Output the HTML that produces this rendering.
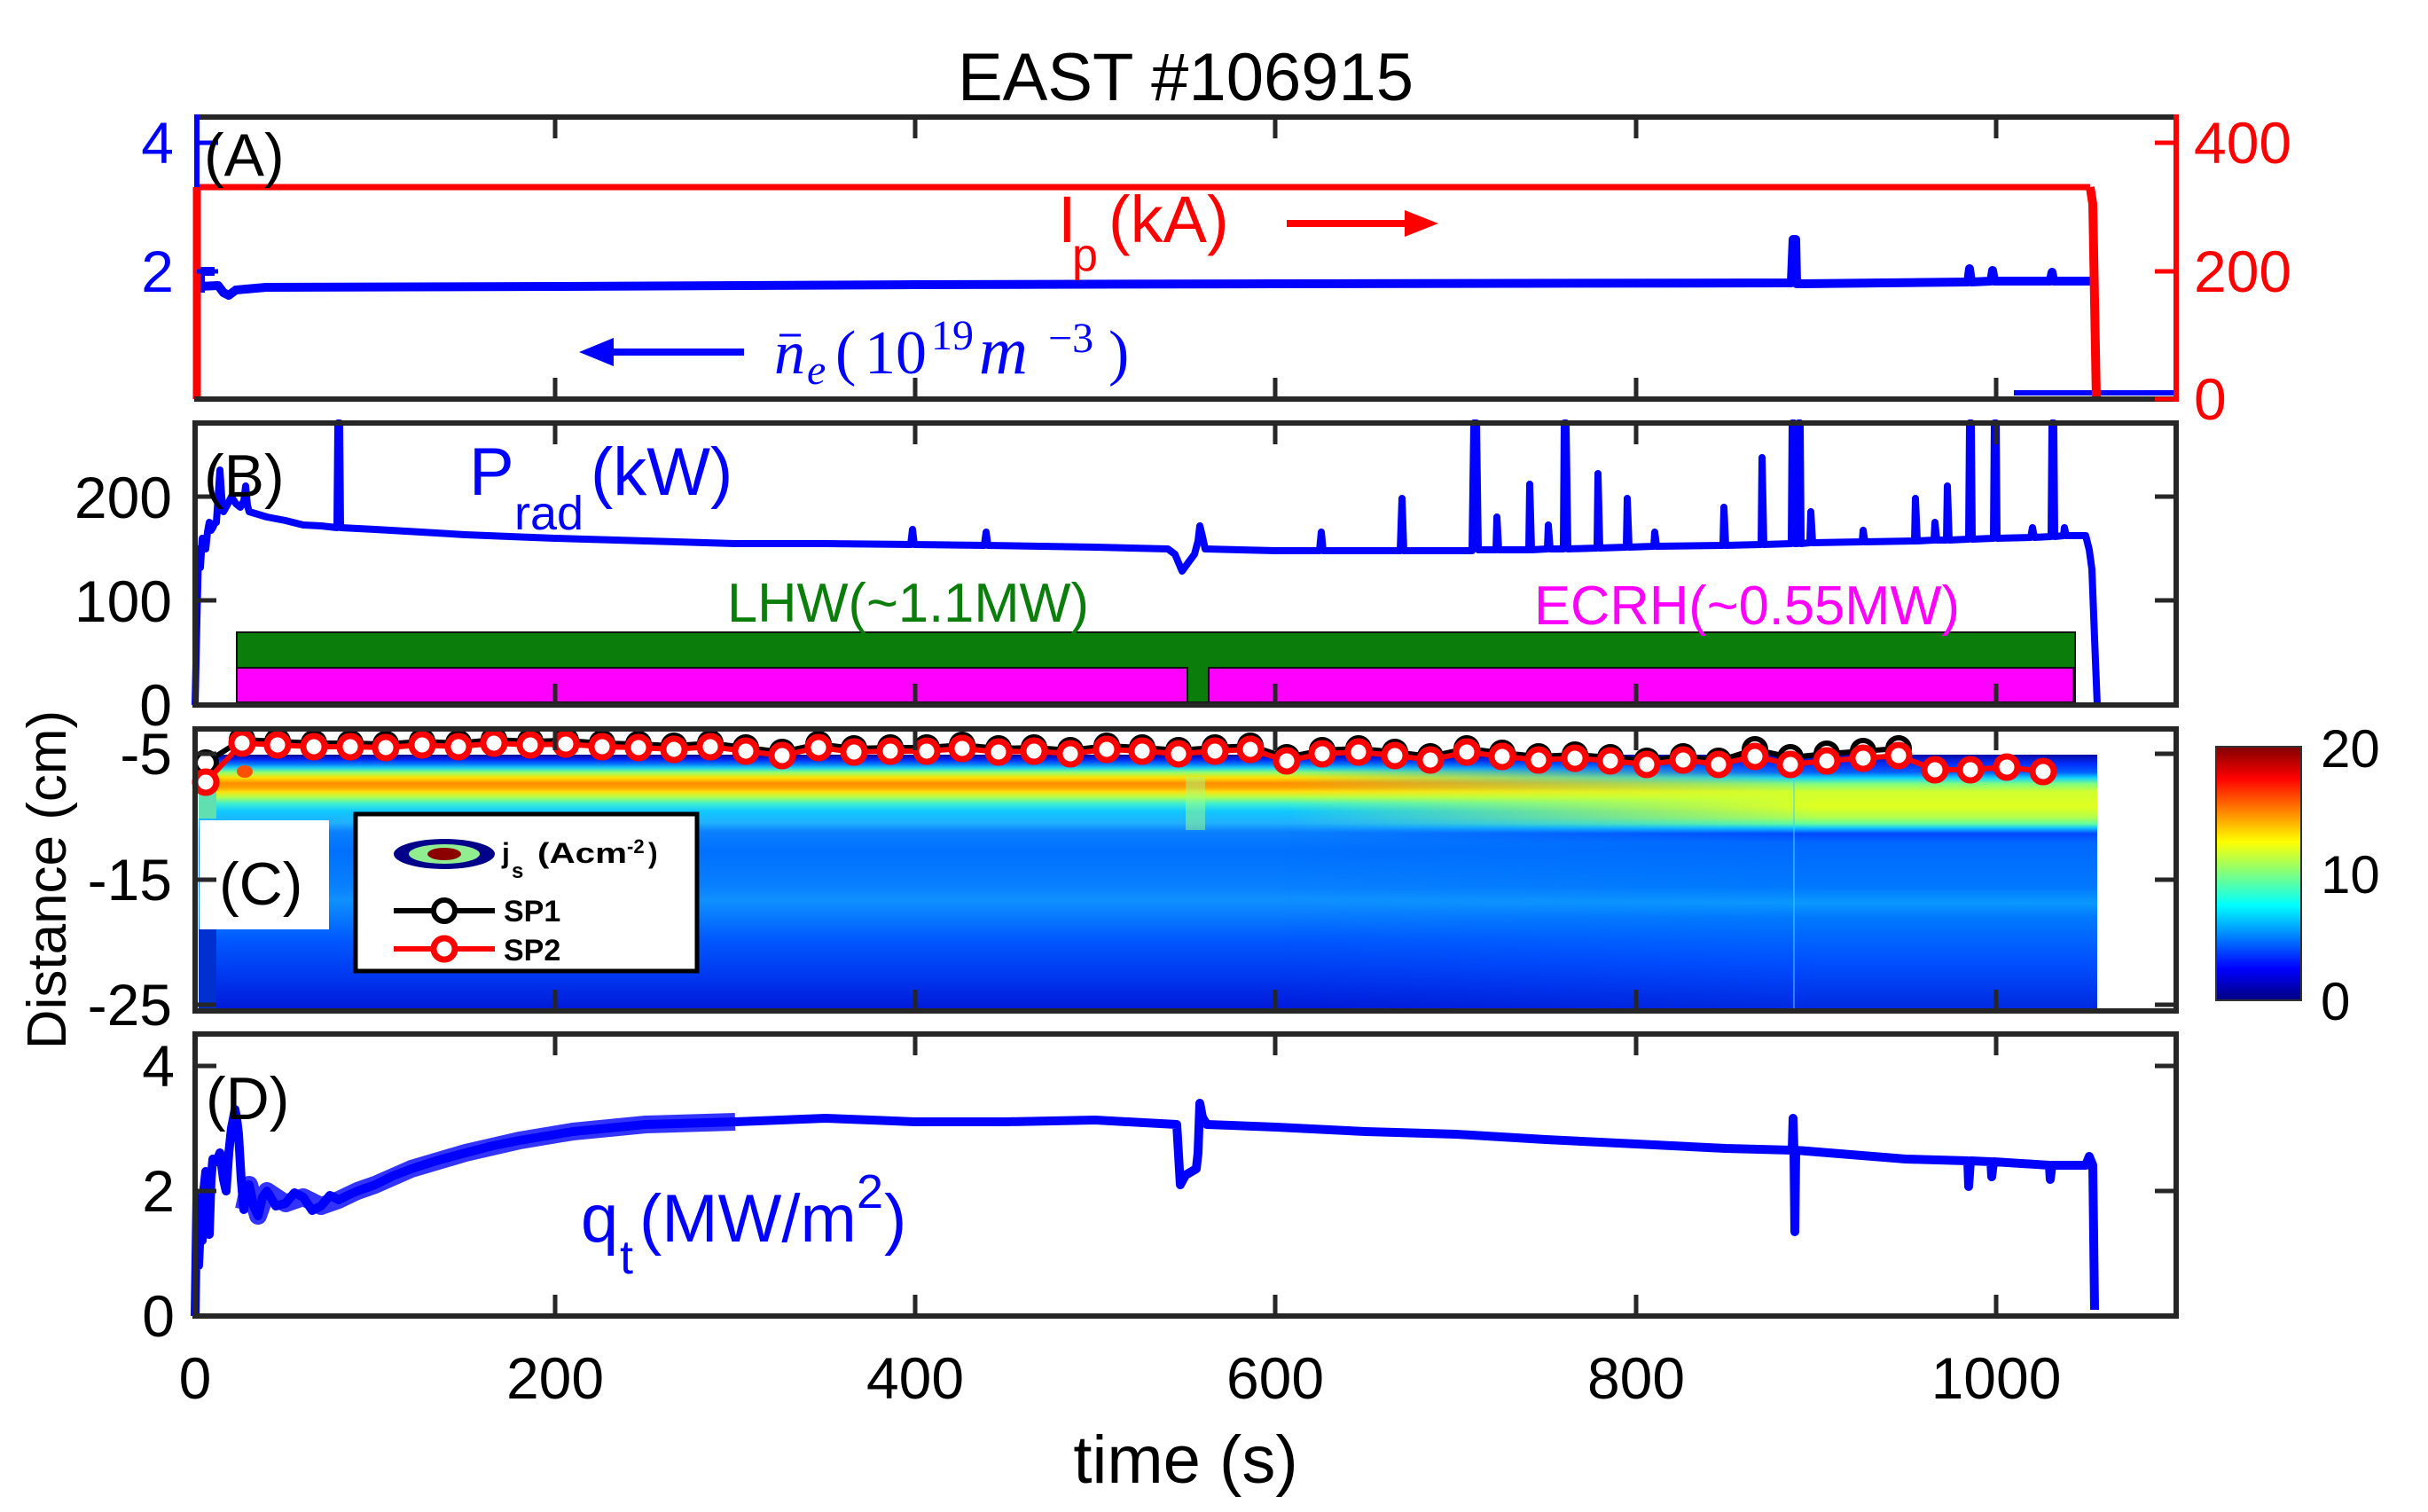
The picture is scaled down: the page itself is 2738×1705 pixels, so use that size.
<!DOCTYPE html>
<html>
<head>
<meta charset="utf-8">
<style>
html,body{margin:0;padding:0;background:#fff;}
svg{display:block;}
</style>
</head>
<body>
<svg xmlns="http://www.w3.org/2000/svg" width="2738" height="1705" viewBox="0 0 2738 1705" font-family="'Liberation Sans', Arial, Helvetica, sans-serif">
<defs>
  <linearGradient id="gL" x1="0" y1="0" x2="0" y2="1">
    <stop offset="0" stop-color="#0a0a90"/>
    <stop offset="0.017" stop-color="#0020f0"/>
    <stop offset="0.035" stop-color="#0070ff"/>
    <stop offset="0.052" stop-color="#20d0f0"/>
    <stop offset="0.069" stop-color="#90ff70"/>
    <stop offset="0.090" stop-color="#ffe000"/>
    <stop offset="0.111" stop-color="#ff9000"/>
    <stop offset="0.128" stop-color="#ffa000"/>
    <stop offset="0.145" stop-color="#ffe010"/>
    <stop offset="0.166" stop-color="#b0ff50"/>
    <stop offset="0.190" stop-color="#40f0d0"/>
    <stop offset="0.221" stop-color="#10c8ff"/>
    <stop offset="0.266" stop-color="#20b0ff"/>
    <stop offset="0.301" stop-color="#0a80ff"/>
    <stop offset="0.377" stop-color="#0070ff"/>
    <stop offset="0.516" stop-color="#0880ff"/>
    <stop offset="0.567" stop-color="#1090ff"/>
    <stop offset="0.637" stop-color="#0878ff"/>
    <stop offset="0.723" stop-color="#0058ff"/>
    <stop offset="0.862" stop-color="#0038f0"/>
    <stop offset="1" stop-color="#0018d8"/>
  </linearGradient>
  <linearGradient id="gR" x1="0" y1="0" x2="0" y2="1">
    <stop offset="0" stop-color="#0808a8"/>
    <stop offset="0.038" stop-color="#0030ff"/>
    <stop offset="0.069" stop-color="#0060ff"/>
    <stop offset="0.090" stop-color="#10d0ff"/>
    <stop offset="0.114" stop-color="#80ff80"/>
    <stop offset="0.145" stop-color="#d0ff30"/>
    <stop offset="0.204" stop-color="#e0ff20"/>
    <stop offset="0.246" stop-color="#b0ff50"/>
    <stop offset="0.270" stop-color="#60ffa0"/>
    <stop offset="0.287" stop-color="#10c0ff"/>
    <stop offset="0.308" stop-color="#0048ff"/>
    <stop offset="0.343" stop-color="#0068ff"/>
    <stop offset="0.516" stop-color="#0078ff"/>
    <stop offset="0.578" stop-color="#0a98ff"/>
    <stop offset="0.637" stop-color="#0078ff"/>
    <stop offset="0.810" stop-color="#0050ff"/>
    <stop offset="1" stop-color="#0028e0"/>
  </linearGradient>
  <linearGradient id="mfade" gradientUnits="userSpaceOnUse" x1="1450" y1="0" x2="2050" y2="0">
    <stop offset="0" stop-color="#000"/>
    <stop offset="1" stop-color="#fff"/>
  </linearGradient>
  <mask id="mR" maskUnits="userSpaceOnUse" x="0" y="0" width="2738" height="1705">
    <rect x="0" y="0" width="2738" height="1705" fill="url(#mfade)"/>
  </mask>
  <linearGradient id="jet" x1="0" y1="0" x2="0" y2="1">
    <stop offset="0" stop-color="#800000"/>
    <stop offset="0.125" stop-color="#ff0000"/>
    <stop offset="0.375" stop-color="#ffff00"/>
    <stop offset="0.625" stop-color="#00ffff"/>
    <stop offset="0.875" stop-color="#0000ff"/>
    <stop offset="1" stop-color="#000080"/>
  </linearGradient>
</defs>

<rect x="0" y="0" width="2738" height="1705" fill="#fff"/>

<!-- Title -->
<text x="1337" y="113" font-size="76" text-anchor="middle" fill="#000">EAST #106915</text>

<!-- ================= PANEL A ================= -->
<g fill="none" stroke-linejoin="round" stroke-linecap="butt">
  <path d="M226,306 L242,306 M226,306 L226,330 M224,323 L246,322 L252,330 L258,333 L266,327 L300,324 L626,323 L1032,321 L1438,320 L2020,319 L2022,270 L2025,270 L2026,320 L2219,318 L2221,303 L2223,318 L2245,317 L2247,305 L2249,317 L2312,317 L2314,307 L2316,317 L2357,317" stroke="#0000ff" stroke-width="10"/>
  <path d="M2271,443 H2454" stroke="#0000ff" stroke-width="6"/>
  <path d="M222,211 L2357,211" stroke="#ff0000" stroke-width="7"/>
  <path d="M222,450 L222,211" stroke="#ff0000" stroke-width="9"/>
  <path d="M2357,211 L2360,230 L2364,450" stroke="#ff0000" stroke-width="10"/>
</g>
<path d="M219,132 H2457 M219,450 H2457" stroke="#262626" stroke-width="6" fill="none"/>
<path d="M222,129 V211" stroke="#0000ff" stroke-width="6"/>
<path d="M2454,129 V453" stroke="#ff0000" stroke-width="6"/>
<path d="M626,132v24M1032,132v24M1438,132v24M1845,132v24M2251,132v24M626,450v-24M1032,450v-24M1438,450v-24M1845,450v-24M2251,450v-24" stroke="#262626" stroke-width="5"/>
<path d="M222,161h24M222,306h24" stroke="#0000ff" stroke-width="5"/>
<path d="M2454,161h-24M2454,306h-24M2454,450h-24" stroke="#ff0000" stroke-width="5"/>
<g font-size="66">
  <text x="196" y="184" text-anchor="end" fill="#0000ff">4</text>
  <text x="196" y="329" text-anchor="end" fill="#0000ff">2</text>
  <text x="2474" y="184" fill="#ff0000">400</text>
  <text x="2474" y="329" fill="#ff0000">200</text>
  <text x="2474" y="473" fill="#ff0000">0</text>
</g>
<text x="230" y="198" font-size="68" fill="#000">(A)</text>
<g fill="#ff0000">
  <text x="1193" y="273" font-size="74">I</text>
  <text x="1209" y="305" font-size="52">p</text>
  <text x="1250" y="273" font-size="74">(kA)</text>
</g>
<path d="M1451,252 H1592" stroke="#ff0000" stroke-width="8"/>
<polygon points="1622,252 1584,237 1584,267" fill="#ff0000"/>
<path d="M690,397 H839" stroke="#0000ff" stroke-width="8"/>
<polygon points="653,397 692,381 692,413" fill="#0000ff"/>
<g fill="#0000ff" font-family="'Liberation Serif', 'Times New Roman', serif">
  <text x="873" y="421" font-size="70" font-style="italic">n</text>
  <text x="910" y="433" font-size="48" font-style="italic">e</text>
  <text x="942" y="421" font-size="70">(</text>
  <text x="975" y="421" font-size="70">10</text>
  <text x="1050" y="394" font-size="48">19</text>
  <text x="1104" y="421" font-size="76" font-style="italic">m</text>
  <text x="1182" y="397" font-size="48">−3</text>
  <text x="1250" y="421" font-size="70">)</text>
</g>
<path d="M879,378 H903" stroke="#0000ff" stroke-width="3"/>

<!-- ================= PANEL B ================= -->
<rect x="267" y="713" width="2073" height="79" fill="#0b7d0b" stroke="#111" stroke-width="2"/>
<rect x="267" y="753" width="1072" height="39" fill="#ff00ff" stroke="#111" stroke-width="2"/>
<rect x="1363" y="753" width="975" height="39" fill="#ff00ff" stroke="#111" stroke-width="2"/>
<path d="M220,795 L222,700 L224,619 L226,640 L228,607 L230,612 L232,619 L234,600 L236,589 L238,598 L240,595 L242,590 L244,589 L246,560 L248,530 L250,560 L252,577 L256,570 L261,560 L266,568 L271,572 L275,565 L277,548 L279,570 L281,577 L301,583 L322,587 L342,592 L362,593 L380,595 L381,477 L383,477 L384,595 L423,597 L475,600 L525,603 L575,605 L626,607 L728,610 L829,613 L931,613 L1027,614 L1029,597 L1031,614 L1110,615 L1112,600 L1114,615 L1235,617 L1317,619 L1325,625 L1333,644 L1341,633 L1347,625 L1351,610 L1353,593 L1356,605 L1359,619 L1439,621 L1488,621 L1490,600 L1492,621 L1579,621 L1581,562 L1583,621 L1660,621 L1662,477 L1665,477 L1667,620 L1687,620 L1688,583 L1690,620 L1724,620 L1725,546 L1727,620 L1745,619 L1746,592 L1748,619 L1763,619 L1764,477 L1766,477 L1768,619 L1801,618 L1802,534 L1804,618 L1834,617 L1835,562 L1837,617 L1865,616 L1866,600 L1868,616 L1943,615 L1944,572 L1946,615 L1986,614 L1987,516 L1989,614 L2020,613 L2021,477 L2023,477 L2024,613 L2027,613 L2028,477 L2030,477 L2031,613 L2041,612 L2042,577 L2044,612 L2100,611 L2101,598 L2103,611 L2159,610 L2160,562 L2162,610 L2181,609 L2182,589 L2184,609 L2195,609 L2196,548 L2198,609 L2220,608 L2221,477 L2223,477 L2224,608 L2248,607 L2249,477 L2251,477 L2252,607 L2290,606 L2292,595 L2294,606 L2313,605 L2314,477 L2316,477 L2317,605 L2327,604 L2328,595 L2330,604 L2352,604 L2356,620 L2359,642 L2362,720 L2365,795" fill="none" stroke="#0000ff" stroke-width="8" stroke-linejoin="round"/>
<rect x="220" y="477" width="2234" height="318" fill="none" stroke="#262626" stroke-width="6"/>
<path d="M626,477v24M1032,477v24M1438,477v24M1845,477v24M2251,477v24M626,795v-24M1032,795v-24M1438,795v-24M1845,795v-24M2251,795v-24M220,560h24M220,677h24M2454,560h-24M2454,677h-24" stroke="#262626" stroke-width="5"/>
<g font-size="66" fill="#000">
  <text x="194" y="584" text-anchor="end">200</text>
  <text x="194" y="701" text-anchor="end">100</text>
  <text x="194" y="818" text-anchor="end">0</text>
</g>
<text x="230" y="560" font-size="68" fill="#000">(B)</text>
<g fill="#0000ff">
  <text x="529" y="558" font-size="76">P</text>
  <text x="580" y="597" font-size="54">rad</text>
  <text x="666" y="558" font-size="76">(kW)</text>
</g>
<text x="820" y="701" font-size="62" fill="#0b7d0b" textLength="408" lengthAdjust="spacingAndGlyphs">LHW(~1.1MW)</text>
<text x="1730" y="704" font-size="62" fill="#ff00ff" textLength="480" lengthAdjust="spacingAndGlyphs">ECRH(~0.55MW)</text>

<!-- ================= PANEL C ================= -->
<rect x="224" y="851" width="2141" height="289" fill="url(#gL)"/>
<rect x="224" y="851" width="2141" height="289" fill="url(#gR)" mask="url(#mR)"/>
<rect x="224" y="851" width="20" height="22" fill="#000050"/>
<rect x="224" y="873" width="20" height="50" fill="#60e0b0"/>
<rect x="224" y="1048" width="20" height="92" fill="#0030d0"/>
<ellipse cx="276" cy="870" rx="9" ry="7" fill="#ff5000"/>
<rect x="1337" y="876" width="22" height="60" fill="#a0ff80" opacity="0.5"/>
<path d="M2023,851 V1140" stroke="#40d0ff" stroke-width="2" opacity="0.5"/>

<polyline points="228,852 232,860 273,834 313,836 354,838 395,838 435,839 476,836 517,838 557,834 598,836 638,835 679,838 720,839 760,841 801,838 841,843 882,848 923,839 963,844 1004,843 1045,843 1085,840 1126,844 1166,843 1207,846 1248,841 1288,843 1329,846 1370,843 1410,841 1451,854 1491,846 1532,844 1573,848 1613,853 1654,844 1694,849 1735,853 1776,851 1816,854 1857,858 1898,853 1938,858 1979,845 2019,854 2060,850 2101,847 2141,844" fill="none" stroke="#000" stroke-width="6"/>
<g fill="#fff" stroke="#000" stroke-width="6">
<circle cx="232" cy="860" r="12"/><circle cx="273" cy="834" r="12"/><circle cx="313" cy="836" r="12"/><circle cx="354" cy="838" r="12"/><circle cx="395" cy="838" r="12"/><circle cx="435" cy="839" r="12"/><circle cx="476" cy="836" r="12"/><circle cx="517" cy="838" r="12"/><circle cx="557" cy="834" r="12"/><circle cx="598" cy="836" r="12"/><circle cx="638" cy="835" r="12"/><circle cx="679" cy="838" r="12"/><circle cx="720" cy="839" r="12"/><circle cx="760" cy="841" r="12"/><circle cx="801" cy="838" r="12"/><circle cx="841" cy="843" r="12"/><circle cx="882" cy="848" r="12"/><circle cx="923" cy="839" r="12"/><circle cx="963" cy="844" r="12"/><circle cx="1004" cy="843" r="12"/><circle cx="1045" cy="843" r="12"/><circle cx="1085" cy="840" r="12"/><circle cx="1126" cy="844" r="12"/><circle cx="1166" cy="843" r="12"/><circle cx="1207" cy="846" r="12"/><circle cx="1248" cy="841" r="12"/><circle cx="1288" cy="843" r="12"/><circle cx="1329" cy="846" r="12"/><circle cx="1370" cy="843" r="12"/><circle cx="1410" cy="841" r="12"/><circle cx="1451" cy="854" r="12"/><circle cx="1491" cy="846" r="12"/><circle cx="1532" cy="844" r="12"/><circle cx="1573" cy="848" r="12"/><circle cx="1613" cy="853" r="12"/><circle cx="1654" cy="844" r="12"/><circle cx="1694" cy="849" r="12"/><circle cx="1735" cy="853" r="12"/><circle cx="1776" cy="851" r="12"/><circle cx="1816" cy="854" r="12"/><circle cx="1857" cy="858" r="12"/><circle cx="1898" cy="853" r="12"/><circle cx="1938" cy="858" r="12"/><circle cx="1979" cy="845" r="12"/><circle cx="2019" cy="854" r="12"/><circle cx="2060" cy="850" r="12"/><circle cx="2101" cy="847" r="12"/><circle cx="2141" cy="844" r="12"/>
</g>
<polyline points="232,882 273,838 313,840 354,842 395,842 435,843 476,840 517,842 557,838 598,840 638,839 679,842 720,843 760,845 801,842 841,847 882,852 923,843 963,848 1004,847 1045,847 1085,844 1126,848 1166,847 1207,850 1248,845 1288,847 1329,850 1370,847 1410,845 1451,858 1491,850 1532,848 1573,852 1613,857 1654,848 1694,853 1735,857 1776,855 1816,858 1857,862 1898,857 1938,862 1979,853 2019,862 2060,858 2101,855 2141,852 2182,868 2222,868 2263,865 2304,870" fill="none" stroke="#ff0000" stroke-width="6"/>
<g fill="#fff" stroke="#ff0000" stroke-width="7">
<circle cx="232" cy="882" r="12"/><circle cx="273" cy="838" r="12"/><circle cx="313" cy="840" r="12"/><circle cx="354" cy="842" r="12"/><circle cx="395" cy="842" r="12"/><circle cx="435" cy="843" r="12"/><circle cx="476" cy="840" r="12"/><circle cx="517" cy="842" r="12"/><circle cx="557" cy="838" r="12"/><circle cx="598" cy="840" r="12"/><circle cx="638" cy="839" r="12"/><circle cx="679" cy="842" r="12"/><circle cx="720" cy="843" r="12"/><circle cx="760" cy="845" r="12"/><circle cx="801" cy="842" r="12"/><circle cx="841" cy="847" r="12"/><circle cx="882" cy="852" r="12"/><circle cx="923" cy="843" r="12"/><circle cx="963" cy="848" r="12"/><circle cx="1004" cy="847" r="12"/><circle cx="1045" cy="847" r="12"/><circle cx="1085" cy="844" r="12"/><circle cx="1126" cy="848" r="12"/><circle cx="1166" cy="847" r="12"/><circle cx="1207" cy="850" r="12"/><circle cx="1248" cy="845" r="12"/><circle cx="1288" cy="847" r="12"/><circle cx="1329" cy="850" r="12"/><circle cx="1370" cy="847" r="12"/><circle cx="1410" cy="845" r="12"/><circle cx="1451" cy="858" r="12"/><circle cx="1491" cy="850" r="12"/><circle cx="1532" cy="848" r="12"/><circle cx="1573" cy="852" r="12"/><circle cx="1613" cy="857" r="12"/><circle cx="1654" cy="848" r="12"/><circle cx="1694" cy="853" r="12"/><circle cx="1735" cy="857" r="12"/><circle cx="1776" cy="855" r="12"/><circle cx="1816" cy="858" r="12"/><circle cx="1857" cy="862" r="12"/><circle cx="1898" cy="857" r="12"/><circle cx="1938" cy="862" r="12"/><circle cx="1979" cy="853" r="12"/><circle cx="2019" cy="862" r="12"/><circle cx="2060" cy="858" r="12"/><circle cx="2101" cy="855" r="12"/><circle cx="2141" cy="852" r="12"/><circle cx="2182" cy="868" r="12"/><circle cx="2222" cy="868" r="12"/><circle cx="2263" cy="865" r="12"/><circle cx="2304" cy="870" r="12"/>
</g>

<rect x="225" y="925" width="146" height="123" fill="#fff"/>
<text x="247" y="1020" font-size="68" fill="#000">(C)</text>

<rect x="401" y="918" width="385" height="177" fill="#fff" stroke="#000" stroke-width="5"/>
<ellipse cx="501" cy="963" rx="57" ry="17" fill="#00008b"/>
<ellipse cx="501" cy="963" rx="40" ry="11" fill="#90ee90"/>
<ellipse cx="501" cy="963" rx="19" ry="7" fill="#8b0000"/>
<g font-weight="bold" fill="#000">
  <text x="566" y="973" font-size="32">j</text>
  <text x="577" y="990" font-size="24">s</text>
  <text x="606" y="973" font-size="32" textLength="101" lengthAdjust="spacingAndGlyphs">(Acm</text>
  <text x="707" y="962" font-size="22">-2</text>
  <text x="731" y="973" font-size="32">)</text>
  <text x="568" y="1039" font-size="34">SP1</text>
  <text x="568" y="1083" font-size="34">SP2</text>
</g>
<path d="M444,1027 H558" stroke="#000" stroke-width="6"/>
<circle cx="501" cy="1027" r="12" fill="#fff" stroke="#000" stroke-width="6"/>
<path d="M444,1070 H558" stroke="#ff0000" stroke-width="6"/>
<circle cx="501" cy="1070" r="12" fill="#fff" stroke="#ff0000" stroke-width="7"/>

<rect x="220" y="822" width="2234" height="318" fill="none" stroke="#262626" stroke-width="6"/>
<path d="M626,822v24M1032,822v24M1438,822v24M1845,822v24M2251,822v24M626,1140v-24M1032,1140v-24M1438,1140v-24M1845,1140v-24M2251,1140v-24M220,850h24M220,992h24M220,1133h24M2454,850h-24M2454,992h-24M2454,1133h-24" stroke="#262626" stroke-width="5"/>
<g font-size="66" fill="#000">
  <text x="194" y="873" text-anchor="end">-5</text>
  <text x="194" y="1015" text-anchor="end">-15</text>
  <text x="194" y="1156" text-anchor="end">-25</text>
</g>

<rect x="2499" y="842" width="96" height="286" fill="url(#jet)" stroke="#333" stroke-width="2"/>
<g font-size="60" fill="#000">
  <text x="2617" y="865">20</text>
  <text x="2617" y="1007">10</text>
  <text x="2617" y="1150">0</text>
</g>

<text transform="translate(74,992) rotate(-90)" font-size="62" text-anchor="middle" fill="#000">Distance (cm)</text>

<!-- ================= PANEL D ================= -->
<path d="M220,1484 L222,1350 L224,1427 L226,1380 L228,1399 L230,1340 L232,1321 L234,1370 L236,1392 L238,1330 L240,1307 L244,1310 L248,1300 L252,1330 L255,1343 L258,1300 L261,1272 L263,1262 L265,1251 L267,1262 L269,1279 L272,1330 L275,1364 L278,1345 L281,1336 L286,1360 L291,1371 L296,1350 L301,1343 L311,1360 L322,1357 L332,1345 L342,1350 L352,1365 L362,1360 L372,1348 L382,1353 L392,1348 L403,1343 L423,1336 L443,1326 L464,1318 L495,1308 L525,1300 L556,1292 L586,1286 L616,1281 L646,1276 L687,1272 L728,1268 L829,1265 L931,1261 L1032,1265 L1134,1265 L1235,1263 L1327,1268 L1331,1336 L1337,1325 L1349,1318 L1351,1300 L1353,1244 L1356,1260 L1361,1268 L1439,1271 L1540,1276 L1642,1279 L1743,1285 L1845,1290 L1946,1295 L2021,1297 L2022,1261 L2023,1297 L2024,1389 L2025,1297 L2149,1307 L2219,1309 L2220,1338 L2222,1309 L2245,1310 L2246,1327 L2248,1310 L2311,1314 L2312,1330 L2314,1314 L2352,1314 L2356,1304 L2360,1314 L2362,1477" fill="none" stroke="#0000ff" stroke-width="10" stroke-linejoin="round"/>
<path d="M275,1364 L281,1336 L291,1371 L301,1343 L322,1357 L342,1350 L362,1360 L382,1353 L403,1343 L423,1336 L464,1318 L525,1300 L586,1286 L646,1276 L728,1268 L829,1265" fill="none" stroke="#0000ff" stroke-width="20" stroke-linejoin="round" opacity="0.8"/>
<rect x="220" y="1166" width="2234" height="318" fill="none" stroke="#262626" stroke-width="6"/>
<path d="M626,1166v24M1032,1166v24M1438,1166v24M1845,1166v24M2251,1166v24M626,1484v-24M1032,1484v-24M1438,1484v-24M1845,1484v-24M2251,1484v-24M220,1202h24M220,1343h24M2454,1202h-24M2454,1343h-24" stroke="#262626" stroke-width="5"/>
<g font-size="66" fill="#000">
  <text x="197" y="1225" text-anchor="end">4</text>
  <text x="197" y="1366" text-anchor="end">2</text>
  <text x="197" y="1507" text-anchor="end">0</text>
</g>
<text x="232" y="1262" font-size="68" fill="#000">(D)</text>
<g fill="#0000ff">
  <text x="655" y="1400" font-size="76">q</text>
  <text x="699" y="1436" font-size="54">t</text>
  <text x="721" y="1400" font-size="76">(MW/m</text>
  <text x="966" y="1362" font-size="54">2</text>
  <text x="997" y="1400" font-size="76">)</text>
</g>

<g font-size="66" fill="#000" text-anchor="middle">
  <text x="220" y="1577">0</text>
  <text x="626" y="1577">200</text>
  <text x="1032" y="1577">400</text>
  <text x="1438" y="1577">600</text>
  <text x="1845" y="1577">800</text>
  <text x="2251" y="1577">1000</text>
</g>
<text x="1337" y="1672" font-size="76" text-anchor="middle" fill="#000">time (s)</text>
</svg>
</body>
</html>
